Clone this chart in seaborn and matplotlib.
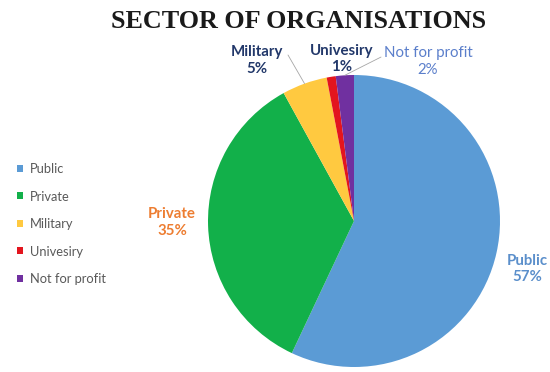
import numpy as np
import matplotlib
matplotlib.use("Agg")
import matplotlib.pyplot as plt
import seaborn as sns

# Share of respondents' organisations by sector
sectors = ["Public", "Private", "Military", "Univesiry", "Not for profit"]
shares = [57, 35, 5, 1, 2]
slice_colors = ["#5B9BD5", "#12B04A", "#FFC940", "#E3151E", "#7030A0"]
label_colors = ["#5B8FCB", "#ED7D31", "#22386A", "#22386A", "#5B7FCB"]

sns.set_theme(style="white")
plt.rcParams["font.family"] = ["Lato", "DejaVu Sans"]

W, H = 550, 372
fig = plt.figure(figsize=(W / 100, H / 100), dpi=100)
fig.patch.set_facecolor("white")

# pie axes: centre (354, 221) px, radius 146 px
cx, cy, r = 354, 221, 146
ax = fig.add_axes([(cx - r) / W, (H - cy - r) / H, 2 * r / W, 2 * r / H])
wedges, _ = ax.pie(shares, colors=slice_colors, startangle=90, counterclock=False,
                   radius=1.0, wedgeprops=dict(linewidth=0))
ax.set_xlim(-1, 1)
ax.set_ylim(-1, 1)
ax.set_axis_off()

# data labels (position in pie units) and optional leader line start
label_pos = {
    "Public": (1.188, -0.329),
    "Private": (-1.247, -0.010),
    "Military": (-0.664, 1.099),
    "Univesiry": (-0.082, 1.110),
    "Not for profit": (0.507, 1.092),
}
leader_from = {
    "Military": (-0.452, 1.137),
    "Not for profit": (0.185, 1.123),
}

total = sum(shares)
cum = 0.0
for name, val, w, col in zip(sectors, shares, wedges, label_colors):
    mid = np.deg2rad(90 - 360 * (cum + val / 2) / total)
    cum += val
    lx, ly = label_pos[name]
    weight = "normal" if name == "Not for profit" else "bold"
    ax.text(lx, ly, f"{name}\n{round(100 * val / total)}%", ha="center", va="center",
            fontsize=10.8, color=col, fontweight=weight, linespacing=1.25, clip_on=False)
    if name in leader_from:
        sx, sy = leader_from[name]
        ax.plot([sx, np.cos(mid) * 1.0], [sy, np.sin(mid) * 1.0], color="#A6A6A6",
                lw=0.6, clip_on=False)

fig.text(298.5 / W, 1 - 21 / H, "SECTOR OF ORGANISATIONS", ha="center", va="center",
         fontsize=18.8, fontweight="bold", family="Liberation Serif", color="#1A1A1A")

leg = fig.legend(wedges, sectors, loc="upper left", bbox_to_anchor=(17 / W, 1 - 163 / H),
                 frameon=False, fontsize=9.3, labelcolor="#595959", handlelength=0.45,
                 handleheight=0.45, handletextpad=0.55, labelspacing=1.2, borderpad=0,
                 borderaxespad=0)

fig.savefig("out.png", dpi=100, facecolor="white")
